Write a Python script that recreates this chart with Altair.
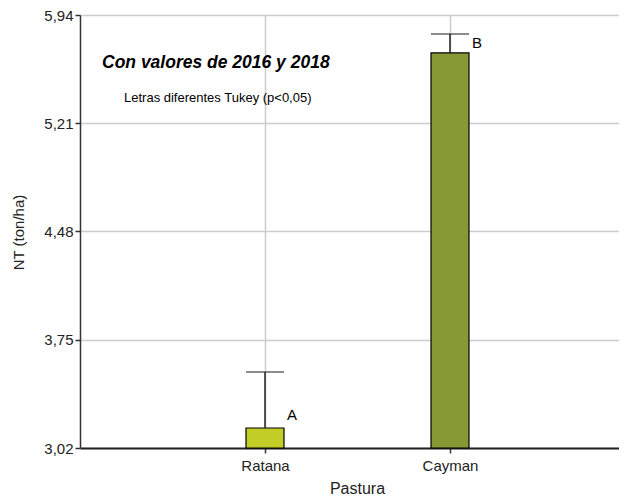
import altair as alt
import pandas as pd

pasturas = ["Ratana", "Cayman"]
medias = [3.155, 5.684]
superior = [3.532, 5.812]
letras = ["A", "B"]
letra_y = [3.243, 5.75]
colores = ["#c3cd27", "#859a35"]
y_ticks = [3.02, 3.75, 4.48, 5.21, 5.94]

df = pd.DataFrame({
    "Pastura": pasturas,
    "NT": medias,
    "sup": superior,
    "letra": letras,
    "ly": letra_y,
    "color": colores,
})

FONT = "Liberation Sans"

x_enc = alt.X(
    "Pastura:N",
    sort=pasturas,
    scale=alt.Scale(type="point", range=[0, 555], padding=1),
    axis=alt.Axis(
        title="Pastura", titleFontSize=16, titleFont=FONT, titleFontWeight="normal",
        titleColor="#222222", titleX=277, titleY=40, titleBaseline="middle",
        labelFontSize=15, labelFont=FONT, labelColor="#222222", labelAngle=0,
        labelPadding=5, tickSize=5, tickColor="#333333", tickWidth=1.5,
        domainColor="#222222", domainWidth=2, grid=True, gridColor="#cccccc",
        gridWidth=1.5,
    ),
)

y_scale = alt.Scale(domain=[3.02, 5.94], nice=False, zero=False)

bars = alt.Chart(df).mark_bar(size=38, stroke="black", strokeWidth=1.2).encode(
    x=x_enc,
    y=alt.Y(
        "NT:Q", scale=y_scale,
        axis=alt.Axis(
            title="NT (ton/ha)", titleFontSize=15, titleFont=FONT,
            titleFontWeight="normal", titleColor="#222222", titleAngle=-90,
            titleX=-62, titleY=217, titleAlign="center", titleBaseline="middle",
            values=y_ticks, labelExpr="replace(format(datum.value, '.2f'), '.', ',')",
            labelFontSize=15, labelFont=FONT, labelColor="#222222", labelPadding=2,
            tickSize=5, tickColor="#333333", tickWidth=1.5,
            domainColor="#333333", domainWidth=1.5,
            grid=True, gridColor="#cccccc", gridWidth=1.5,
        ),
    ),
    y2=alt.datum(3.02),
    color=alt.Color("color:N", scale=None),
)

err = alt.Chart(df).mark_rule(color="#222222", strokeWidth=1.5).encode(
    x=alt.X("Pastura:N", sort=pasturas),
    y=alt.Y("NT:Q"),
    y2="sup:Q",
)

cap = alt.Chart(df).mark_tick(color="#222222", size=38, thickness=1.5).encode(
    x=alt.X("Pastura:N", sort=pasturas),
    y=alt.Y("sup:Q"),
)

lab = alt.Chart(df).mark_text(
    font=FONT, fontSize=15, color="black", align="left", baseline="middle", dx=22
).encode(
    x=alt.X("Pastura:N", sort=pasturas),
    y=alt.Y("ly:Q"),
    text="letra:N",
)

titulo = alt.Chart(pd.DataFrame({"t": ["Con valores de 2016 y 2018"]})).mark_text(
    font=FONT, fontSize=17.5, fontWeight="bold", fontStyle="italic", color="black",
    align="left", baseline="middle",
).encode(x=alt.value(22), y=alt.value(48), text="t:N")

nota = alt.Chart(pd.DataFrame({"t": ["Letras diferentes Tukey (p<0,05)"]})).mark_text(
    font=FONT, fontSize=13, color="black", align="left", baseline="middle",
).encode(x=alt.value(44), y=alt.value(83), text="t:N")

chart = alt.layer(bars, err, cap, lab, titulo, nota).properties(
    width=539, height=433,
    autosize=alt.AutoSizeParams(type="none"),
    padding={"left": 72, "top": 7, "right": 0, "bottom": 50},
).configure_view(stroke=None).configure(background="white")

chart.save("out.html", embed_options={"renderer": "svg", "actions": False})
